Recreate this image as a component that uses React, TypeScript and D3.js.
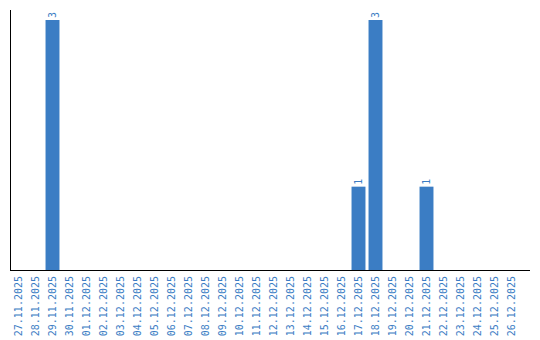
import React from "react";
import * as d3 from "d3";

const dates = [
  "27.11.2025","28.11.2025","29.11.2025","30.11.2025","01.12.2025","02.12.2025",
  "03.12.2025","04.12.2025","05.12.2025","06.12.2025","07.12.2025","08.12.2025",
  "09.12.2025","10.12.2025","11.12.2025","12.12.2025","13.12.2025","14.12.2025",
  "15.12.2025","16.12.2025","17.12.2025","18.12.2025","19.12.2025","20.12.2025",
  "21.12.2025","22.12.2025","23.12.2025","24.12.2025","25.12.2025","26.12.2025",
];
const values = [0,0,3,0,0,0,0,0,0,0,0,0,0,0,0,0,0,0,0,0,1,3,0,0,1,0,0,0,0,0];

const W = 540, H = 340;
const left = 10, plotRight = 520, axisRight = 530, top = 10, bottom = 270;
const color = "#3b7dc4";
const font = "'DejaVu Sans Mono', monospace";

export default function App() {
  const x = d3.scaleBand<string>().domain(dates).range([left, plotRight]).paddingInner(0.18).paddingOuter(0.09);
  const y = d3.scaleLinear().domain([0, 3]).range([bottom, 20]);
  return (
    <svg width={W} height={H} style={{ position: "absolute", left: 0, top: 0 }}>
      {dates.map((d, i) =>
        values[i] > 0 ? (
          <g key={d}>
            <rect x={x(d)!} y={y(values[i])} width={x.bandwidth()} height={bottom - y(values[i])} fill={color} />
            <text
              transform={`translate(${x(d)! + x.bandwidth() / 2},${y(values[i]) - 2}) rotate(-90)`}
              dy="0.35em"
              fontSize={10}
              fontFamily={font}
              fill={color}
              textAnchor="start"
            >
              {values[i]}
            </text>
          </g>
        ) : null
      )}
      <line x1={left + 0.5} x2={left + 0.5} y1={top} y2={bottom + 1} stroke="#000" strokeWidth={1} shapeRendering="crispEdges" />
      <line x1={left} x2={axisRight} y1={bottom + 0.5} y2={bottom + 0.5} stroke="#000" strokeWidth={1} shapeRendering="crispEdges" />
      {dates.map((d) => (
        <text
          key={"l" + d}
          transform={`translate(${x(d)! + x.bandwidth() / 2},${bottom + 6}) rotate(-90)`}
          dy="0.35em"
          fontSize={10}
          fontFamily={font}
          fill={color}
          textAnchor="end"
        >
          {d}
        </text>
      ))}
    </svg>
  );
}
